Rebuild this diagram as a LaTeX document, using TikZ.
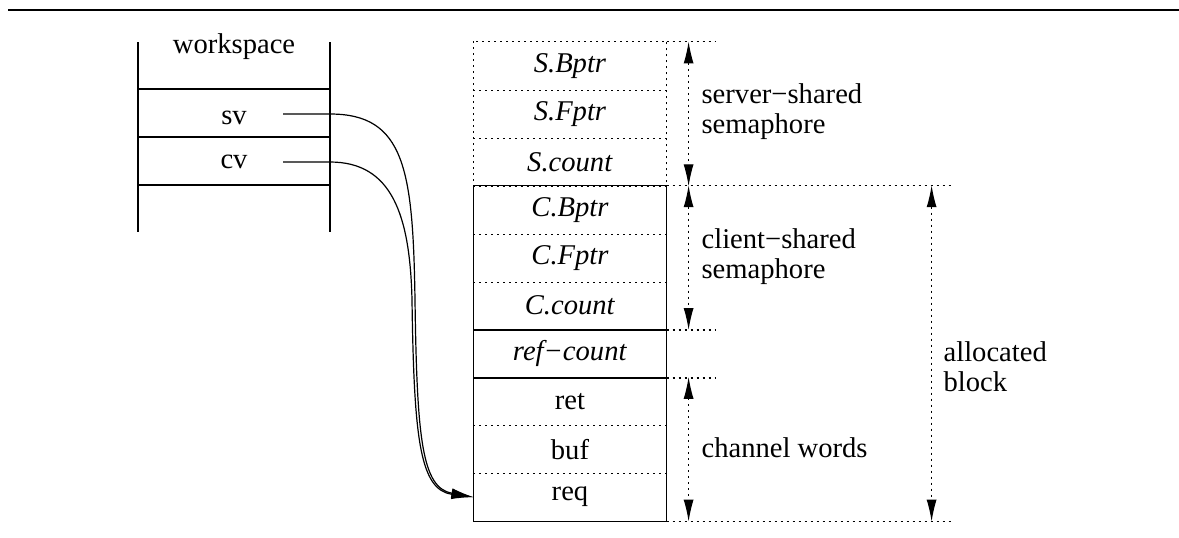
\documentclass[tikz,border=0pt]{standalone}
\usepackage{fontspec}
\setmainfont{Liberation Serif}
\usetikzlibrary{arrows.meta}
\tikzset{
  dotline/.style={dash pattern=on 1pt off 2pt},
  cell/.style={minimum width=96pt, minimum height=23.95pt, inner sep=0pt},
  span/.style={dotline, {Latex[length=11pt,width=5pt]}-{Latex[length=11pt,width=5pt]}},
  link/.style={-{Latex[length=11pt,width=5pt]}},
  lbl/.style={anchor=west, align=left, inner sep=0pt}
}
\begin{document}
\begin{tikzpicture}[x=.5pt, y=-.5pt, line width=.6pt, font=\fontsize{14.3}{15}\selectfont]
    \useasboundingbox (0,0) rectangle (1179,537);
    \draw (8,10) -- (1179,10);

    % workspace column
    \draw (138,42) -- (138,232);
    \draw (330,42) -- (330,232);
    \foreach \y in {89,137,185}
    \draw (138,\y) -- (330,\y);
    \node (ws) at (234,47) {workspace};
    \node (sv) at (234,118) {sv};
    \node (cv) at (234,162) {cv};
    \coordinate (svp) at (283,114);
    \coordinate (cvp) at (283,162);

    % channel block
    \foreach \n/\t [count=\i from 0] in {sb/\textit{S.Bptr}, sf/\textit{S.Fptr}, sc/\textit{S.count},
        cb/\textit{C.Bptr}, cf/\textit{C.Fptr}, cc/\textit{C.count}, rc/\textit{ref−count},
        ret/ret, buf/buf, req/req}
    \node[cell] (\n) at (570,66+47.9*\i) {\t};

    \draw[dotline] (sb.north west) rectangle (sc.south east);
    \foreach \n in {sb,sf}
    \draw[dotline] (\n.south west) -- (\n.south east);
    \draw (cb.north west) rectangle (req.south east);
    \foreach \n in {cb,cf,ret,buf}
    \draw[dotline] (\n.south west) -- (\n.south east);
    \foreach \n in {cc,rc}
    \draw (\n.south west) -- (\n.south east);

    % extension lines
    \foreach \n in {sb.north east,cc.south east,rc.south east}
    \draw[dotline] (\n) -- ++(49,0);
    \foreach \n in {cb.north east,req.south east}
    \draw[dotline] (\n) -- ++(284,0);

    % spans
    \draw[span] ([xshift=11pt]sb.north east) -- ([xshift=11pt]sc.south east);
    \draw[span] ([xshift=11pt]cb.north east) -- ([xshift=11pt]cc.south east);
    \draw[span] ([xshift=11pt]ret.north east) -- ([xshift=11pt]req.south east);
    \draw[span] ([xshift=132.5pt]cb.north east) -- ([xshift=132.5pt]req.south east);

    \node[lbl] (srv) at (701,112) {server−shared\\semaphore};
    \node[lbl] (cli) at (701,257) {client−shared\\semaphore};
    \node[lbl] (chw) at (701,448) {channel words};
    \node[lbl] (alb) at (943,367) {allocated\\block};

    % pointers
    \draw[link] (svp) -- (330,114) .. controls (405,114) and (413,170) .. (415,300)
        .. controls (417,440) and (422,488) .. (req.west);
    \draw[link] (cvp) -- (330,162) .. controls (392,162) and (410,215) .. (412,300)
        .. controls (414,440) and (420,490) .. (req.west);
\end{tikzpicture}
\end{document}
